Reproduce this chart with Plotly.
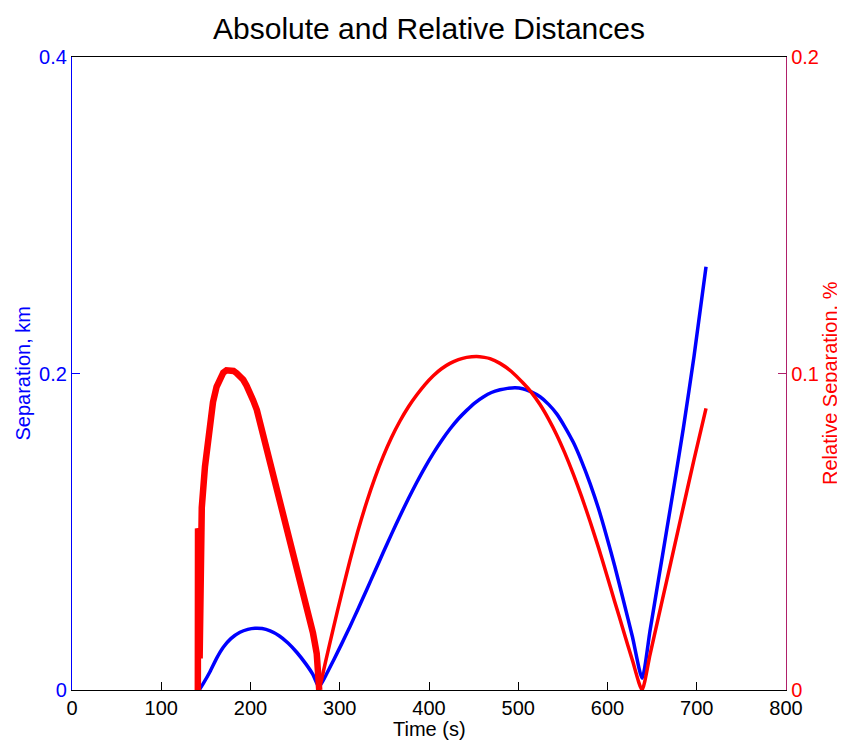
import plotly.graph_objects as go

# ---- data ----
blue_t = [142.5, 147, 154.6, 162, 169.5, 178, 188.2, 197, 205, 213, 222, 232, 242, 252, 262, 270, 276.6,
          284, 292.8, 302, 311.5, 320, 330.2, 339.5, 348.8, 358, 367.5, 377, 386.2, 395.5, 404.8, 414,
          423.5, 433, 442.2, 451.5, 460.8, 470, 479.6, 488, 496.4, 505, 514, 524.4, 534, 543.1, 552,
          561.7, 571, 580.4, 590, 599.1, 608, 617.7, 628, 638.8, 647.6, 657, 666.3, 675.5, 685, 697, 710.4]
blue_km = [0.0, 0.004, 0.0115, 0.020, 0.027, 0.0325, 0.0365, 0.0383, 0.039, 0.0388, 0.0373, 0.0343, 0.0297,
           0.0237, 0.0165, 0.0097, 0.002,
           0.0088, 0.0185, 0.029, 0.0402, 0.0506, 0.0634, 0.0752, 0.087, 0.0985, 0.11, 0.121, 0.1311,
           0.1407, 0.1495, 0.1575, 0.1649, 0.1714, 0.1767, 0.1815, 0.1852, 0.188, 0.1897, 0.1906, 0.191,
           0.1904, 0.1885, 0.1853, 0.1805, 0.1745, 0.1665, 0.1565, 0.1445, 0.1306, 0.1145, 0.0969,
           0.0785, 0.0569, 0.0335, 0.0074, 0.0373, 0.0693, 0.1009, 0.1322, 0.1655, 0.2111, 0.2675]

# noisy (oscillating) first part of the relative separation
red_band_t = [141.0, 141.2, 141.8, 142.4, 143.0, 143.6, 145.4, 149, 152, 154.6, 158, 162, 166, 169.5, 173,
              177, 181, 184.5, 188, 191.9, 195.5, 199.5, 203, 207.1, 211, 216, 220, 225.5, 230, 235, 240,
              244.3, 249, 254, 258, 263, 267, 270, 272, 274.2, 277]
red_band_pct = [0.0, 0.051, 0.002, 0.05, 0.01, 0.05, 0.0576, 0.0706, 0.0788, 0.0848, 0.091, 0.0958,
                0.0988, 0.1003, 0.101, 0.1011, 0.1008, 0.1001, 0.0992, 0.098, 0.0962, 0.094, 0.0915,
                0.0885, 0.0842, 0.079, 0.0745, 0.068, 0.063, 0.058, 0.0528, 0.048, 0.0428, 0.0375,
                0.0328, 0.0269, 0.0215, 0.018, 0.015, 0.0115, 0.0]

# smooth remainder of the relative separation
red_t = [277, 284, 292.8, 302, 311.5, 320, 330.2, 339.5, 348.8, 358, 367.5, 377, 386.2, 395.5, 404.8, 414,
         423.5, 433, 442.2, 453.4, 462, 468.3, 479.6, 492, 505.7, 514, 524.4, 534, 543.1, 552, 561.7, 571,
         580.4, 590, 599.1, 608, 617.7, 628, 638.7, 647.6, 657, 666.3, 675.5, 685, 697, 710.4]
red_pct = [0.0, 0.0088, 0.0195, 0.0303, 0.041, 0.0499, 0.0594, 0.0671, 0.0739, 0.0798, 0.085, 0.0895,
           0.0932, 0.0965, 0.0993, 0.1015, 0.1032, 0.1044, 0.1051, 0.1054, 0.1051, 0.1047, 0.1032,
           0.1007, 0.0969, 0.0943, 0.0902, 0.0856, 0.0806, 0.075, 0.0682, 0.0611, 0.0533, 0.0449,
           0.0364, 0.028, 0.0189, 0.0093, 0.0, 0.0111, 0.0229, 0.0345, 0.046, 0.0579, 0.0729, 0.089]

x_ticks = [0, 100, 200, 300, 400, 500, 600, 700, 800]
left_ticks = [0, 0.2, 0.4]
left_labels = ["0", "0.2", "0.4"]
right_ticks = [0, 0.1, 0.2]
right_labels = ["0", "0.1", "0.2"]

BLUE = "#0000FF"
RED = "#FF0000"
RAXIS = "#B0206A"
FONT = "Liberation Sans, Arial, sans-serif"
TICK = 20
LAB = 20

# page body has an 8px margin: the figure is placed 8px right/down in the window
W, H = 837, 735
PL, PR, PT, PB = 64, 59, 49, 53   # plot area at window x 72..786, y 57..690

fig = go.Figure()
fig.add_trace(go.Scatter(x=blue_t, y=blue_km, mode="lines",
                         line=dict(color=BLUE, width=3.5, shape="spline", smoothing=0.6),
                         yaxis="y", showlegend=False))
fig.add_trace(go.Scatter(x=red_band_t, y=red_band_pct, mode="lines",
                         line=dict(color=RED, width=6.5),
                         yaxis="y2", showlegend=False))
fig.add_trace(go.Scatter(x=red_t, y=red_pct, mode="lines",
                         line=dict(color=RED, width=3.5, shape="spline", smoothing=0.6),
                         yaxis="y2", showlegend=False))

fig.update_layout(
    template="none",
    width=W, height=H,
    margin=dict(l=PL, r=PR, t=PT, b=PB, pad=0),
    paper_bgcolor="white", plot_bgcolor="white",
    font=dict(family=FONT, size=TICK, color="black"),
    title=dict(text="Absolute and Relative Distances", x=(PL + (W - PL - PR) / 2) / W, xanchor="center",
               y=1 - 20 / H, yanchor="middle", font=dict(size=30, color="black")),
    xaxis=dict(range=[0, 800], tickvals=x_ticks, ticks="inside", ticklen=8, tickcolor="black",
               showline=True, linecolor="black", linewidth=1.3, mirror=True, showgrid=False,
               zeroline=False, automargin=False, tickfont=dict(size=TICK, color="black")),
    yaxis=dict(range=[0, 0.4], tickvals=left_ticks, ticktext=left_labels, ticks="inside", ticklen=8,
               tickcolor=BLUE, showline=True, linecolor=BLUE, linewidth=1.3, showgrid=False,
               zeroline=False, automargin=False, tickfont=dict(size=TICK, color=BLUE)),
    yaxis2=dict(range=[0, 0.2], tickvals=right_ticks, ticktext=right_labels, ticks="inside", ticklen=8,
                tickcolor=RAXIS, showline=True, linecolor=RAXIS, linewidth=1.3, showgrid=False,
                zeroline=False, automargin=False, overlaying="y", side="right",
                tickfont=dict(size=TICK, color=RED)),
    annotations=[
        dict(text="Time (s)", x=0.5, y=(690 - 729) / 633, xref="paper", yref="paper",
             xanchor="center", yanchor="middle", showarrow=False, font=dict(size=LAB, color="black")),
        dict(text="Separation, km", x=(22 - 72) / 714, y=0.5, xref="paper", yref="paper",
             xanchor="center", yanchor="middle", textangle=-90, showarrow=False,
             font=dict(size=LAB, color=BLUE)),
        dict(text="Relative Separation, %", x=(830 - 72) / 714, y=(690 - 383) / 633,
             xref="paper", yref="paper", xanchor="center", yanchor="middle", textangle=-90,
             showarrow=False, font=dict(size=LAB, color=RED)),
    ],
)

fig.write_html("out.html")
